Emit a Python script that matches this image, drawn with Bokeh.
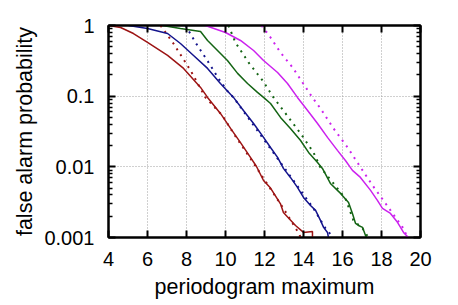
from bokeh.plotting import figure
from bokeh.models import Range1d, LinearAxis, LogAxis, FixedTicker
from bokeh.embed import file_html
from bokeh.resources import INLINE

# ---- data ----
red_x = [4.00, 4.62, 5.28, 6.00, 7.03, 7.85, 8.72, 9.08, 9.74, 10.26, 10.77, 11.28, 11.59, 11.95, 12.31, 12.82, 12.97, 13.59, 14.00, 14.46, 14.46]
red_y = [1.0, 0.937, 0.77, 0.575, 0.377, 0.247, 0.133, 0.096, 0.057, 0.035, 0.022, 0.0136, 0.0101, 0.0064, 0.0050, 0.0030, 0.00226, 0.00148, 0.00118, 0.00122, 0.001]
red_tx = [6.67, 7.33, 8.21, 8.97, 9.85, 10.41, 11.28, 12.97, 13.79, 13.85]
red_ty = [1.0, 0.556, 0.231, 0.096, 0.053, 0.0297, 0.0131, 0.00258, 0.00111, 0.001]

blue_x = [5.03, 6.00, 7.03, 7.69, 8.36, 9.08, 9.74, 10.41, 10.92, 11.44, 11.95, 12.31, 12.67, 12.97, 13.33, 13.69, 14.00, 14.36, 14.62, 14.87, 15.03, 15.23, 15.28]
blue_y = [1.0, 0.907, 0.77, 0.556, 0.377, 0.247, 0.151, 0.096, 0.0628, 0.0411, 0.0261, 0.0188, 0.0136, 0.0095, 0.00708, 0.00511, 0.00369, 0.00284, 0.00242, 0.00175, 0.00139, 0.00118, 0.001]
blue_tx = [7.95, 8.46, 9.13, 9.64, 10.15, 10.41, 13.85, 14.51, 15.13, 15.54]
blue_ty = [1.0, 0.575, 0.300, 0.178, 0.113, 0.096, 0.00464, 0.00258, 0.00134, 0.001]

green_x = [6.77, 7.69, 8.72, 9.08, 9.59, 10.10, 10.62, 11.13, 11.64, 11.95, 12.31, 12.82, 13.33, 13.85, 14.26, 14.72, 14.97, 15.38, 15.90, 16.31, 16.51, 16.67, 16.82, 17.03, 17.18, 17.23]
green_y = [1.0, 0.907, 0.823, 0.614, 0.443, 0.320, 0.210, 0.151, 0.113, 0.096, 0.0788, 0.050, 0.0349, 0.0236, 0.0160, 0.0115, 0.0095, 0.00582, 0.00421, 0.00314, 0.00219, 0.00158, 0.00148, 0.00139, 0.00107, 0.001]
green_tx = [10.15, 10.51, 11.18, 11.90, 12.46, 13.08, 13.85, 14.51, 14.87, 15.54, 16.15, 16.56, 17.03, 17.33]
green_ty = [1.0, 0.575, 0.300, 0.167, 0.096, 0.0569, 0.0297, 0.016, 0.0098, 0.00582, 0.00357, 0.00175, 0.00134, 0.001]

mag_x = [8.97, 10.00, 10.77, 11.44, 11.95, 12.67, 13.18, 13.69, 14.21, 14.72, 15.23, 15.74, 16.15, 16.51, 16.92, 17.44, 17.79, 18.05, 18.46, 18.82, 19.13, 19.38]
mag_y = [1.0, 0.796, 0.614, 0.443, 0.320, 0.216, 0.151, 0.096, 0.0628, 0.0411, 0.0261, 0.0171, 0.0123, 0.0089, 0.00708, 0.00464, 0.00335, 0.00258, 0.00219, 0.00164, 0.00118, 0.001]
mag_tx = [11.85, 12.31, 12.82, 13.44, 13.95, 14.41, 14.87, 15.54, 16.26, 17.03, 17.54, 18.21, 18.72, 19.13, 19.33]
mag_ty = [1.0, 0.676, 0.415, 0.255, 0.156, 0.1, 0.067, 0.0349, 0.0188, 0.0089, 0.00546, 0.00303, 0.00192, 0.00134, 0.001]

x_ticks = [4, 6, 8, 10, 12, 14, 16, 18, 20]
y_ticks = [0.001, 0.01, 0.1, 1]
y_tick_labels = ["0.001", "0.01", "0.1", "1"]

RED = "#9c1414"
BLUE = "#14148c"
GREEN = "#146414"
MAG = "#cc22ee"
FONT = "Liberation Sans"

p = figure(width=450, height=305, output_backend="svg", toolbar_location=None,
           x_range=Range1d(4, 20), y_range=Range1d(0.001, 1), y_axis_type="log",
           min_border_left=108, min_border_right=30, min_border_top=25, min_border_bottom=68)
p.outline_line_color = "black"
p.outline_line_width = 2

minor = [m * 10.0 ** e for e in (-3, -2, -1) for m in range(2, 10)]
yt = FixedTicker(ticks=y_ticks, minor_ticks=minor)
xt = FixedTicker(ticks=x_ticks)
overrides = {t: l for t, l in zip(y_ticks, y_tick_labels)}

for ax in p.xaxis:
    ax.ticker = xt
for ax in p.yaxis:
    ax.ticker = yt
    ax.major_label_overrides = overrides

def style(ax, labels=True, minor_ticks=False):
    ax.axis_line_width = 2
    ax.axis_line_color = "black"
    ax.major_tick_in = 7
    ax.major_tick_out = 0
    ax.major_tick_line_width = 2
    if minor_ticks:
        ax.minor_tick_in = 4
        ax.minor_tick_out = 0
        ax.minor_tick_line_width = 1.5
    else:
        ax.minor_tick_line_color = None
    ax.major_label_text_font = FONT
    ax.major_label_text_font_size = "20px"
    ax.major_label_text_color = "black"
    ax.axis_label_text_font = FONT
    ax.axis_label_text_font_size = "21.5px"
    ax.axis_label_text_font_style = "normal"
    ax.axis_label_text_color = "black"
    if not labels:
        ax.major_label_text_color = None

style(p.xaxis[0], minor_ticks=False)
style(p.yaxis[0], minor_ticks=True)
p.xaxis[0].axis_label = "periodogram maximum"
p.yaxis[0].axis_label = "false alarm probability"
p.xaxis[0].major_label_standoff = 14
p.yaxis[0].major_label_standoff = 14
p.xaxis[0].axis_label_standoff = 6
p.yaxis[0].axis_label_standoff = 4

top = LinearAxis(ticker=xt)
style(top, labels=False)
top.major_label_text_font_size = "0px"
p.add_layout(top, "above")
right = LogAxis(ticker=yt)
style(right, labels=False, minor_ticks=True)
right.major_label_text_font_size = "0px"
p.add_layout(right, "right")

p.xgrid.ticker = FixedTicker(ticks=x_ticks[1:-1])
p.ygrid.ticker = FixedTicker(ticks=[0.01, 0.1])
for g in (p.xgrid[0], p.ygrid[0]):
    g.grid_line_color = "#a0a0a0"
    g.grid_line_dash = "1 2"
    g.grid_line_width = 1

for xs, ys, txs, tys, c in [(red_x, red_y, red_tx, red_ty, RED),
                             (blue_x, blue_y, blue_tx, blue_ty, BLUE),
                             (green_x, green_y, green_tx, green_ty, GREEN),
                             (mag_x, mag_y, mag_tx, mag_ty, MAG)]:
    p.line(xs, ys, line_color=c, line_width=1.5)
    p.line(txs, tys, line_color=c, line_width=2, line_dash="2 5")

open("out.html", "w").write(file_html(p, INLINE))
